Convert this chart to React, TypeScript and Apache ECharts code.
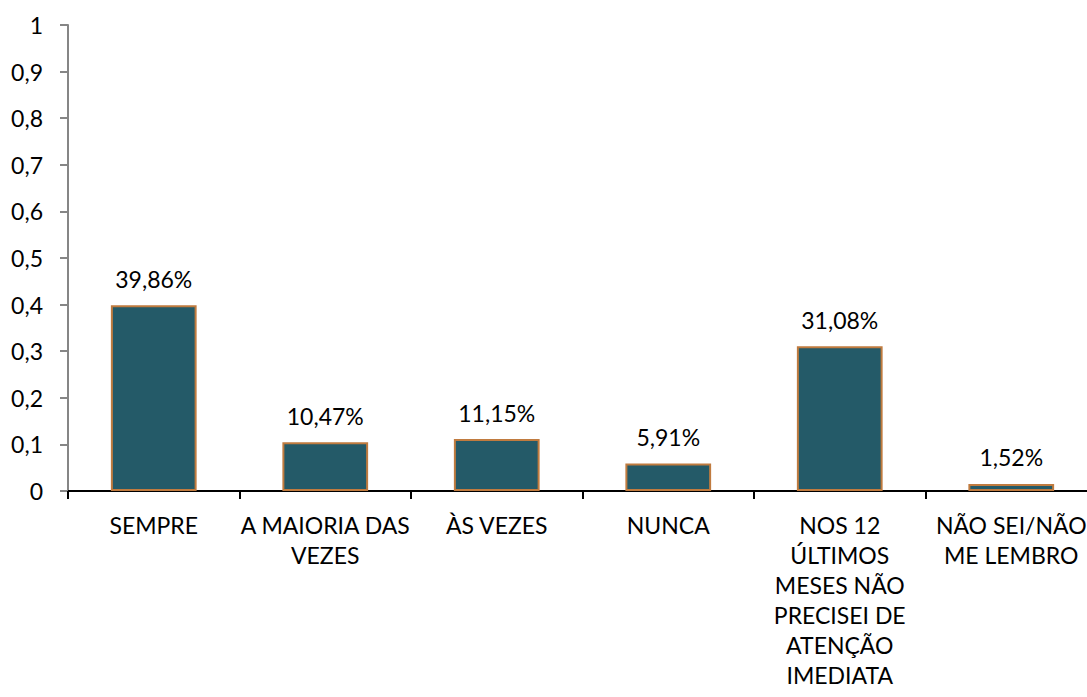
import React, { useEffect, useRef } from "react";
import * as echarts from "echarts";

const categories = [
  "SEMPRE",
  "A MAIORIA DAS\nVEZES",
  "ÀS VEZES",
  "NUNCA",
  "NOS 12\nÚLTIMOS\nMESES NÃO\nPRECISEI DE\nATENÇÃO\nIMEDIATA",
  "NÃO SEI/NÃO\nME LEMBRO",
];
const values = [0.3986, 0.1047, 0.1115, 0.0591, 0.3108, 0.0152];
const yMin = 0;
const yMax = 1;
const yInterval = 0.1;

const FONT = "Lato";

export default function App() {
  const ref = useRef<HTMLDivElement>(null);
  useEffect(() => {
    if (!ref.current) return;
    const chart = echarts.init(ref.current, undefined, { renderer: "svg" });
    chart.setOption({
      animation: false,
      backgroundColor: "#ffffff",
      grid: { left: 68, top: 25, right: 3, bottom: 206, containLabel: false },
      xAxis: {
        type: "category",
        data: categories,
        axisLine: { lineStyle: { color: "#000000", width: 2 } },
        axisTick: { show: true, length: 8, lineStyle: { color: "#000000", width: 2 } },
        axisLabel: {
          interval: 0,
          margin: 19,
          color: "#000000",
          fontFamily: FONT,
          fontSize: 23,
          lineHeight: 30,
          align: "center",
        },
      },
      yAxis: {
        type: "value",
        min: yMin,
        max: yMax,
        interval: yInterval,
        splitLine: { show: false },
        axisLine: { show: true, lineStyle: { color: "#868686", width: 2 } },
        axisTick: { show: true, length: 8, lineStyle: { color: "#868686", width: 2 } },
        axisLabel: {
          margin: 25,
          color: "#000000",
          fontFamily: FONT,
          fontSize: 23,
          formatter: (v: number) => String(Math.round(v * 10) / 10).replace(".", ","),
        },
      },
      series: [
        {
          type: "bar",
          data: values,
          barWidth: "50%",
          itemStyle: { color: "#245a68", borderColor: "#c07b3f", borderWidth: 2 },
          label: {
            show: true,
            position: "top",
            distance: 15,
            color: "#000000",
            fontFamily: FONT,
            fontSize: 23,
            formatter: (p: any) => (p.value * 100).toFixed(2).replace(".", ",") + "%",
          },
        },
      ],
    });
    return () => chart.dispose();
  }, []);
  return (
    <div style={{ position: "fixed", left: 0, top: 0, width: 1087, height: 697, overflow: "hidden", background: "#fff" }}>
      <div ref={ref} style={{ width: 1100, height: 697 }} />
    </div>
  );
}
